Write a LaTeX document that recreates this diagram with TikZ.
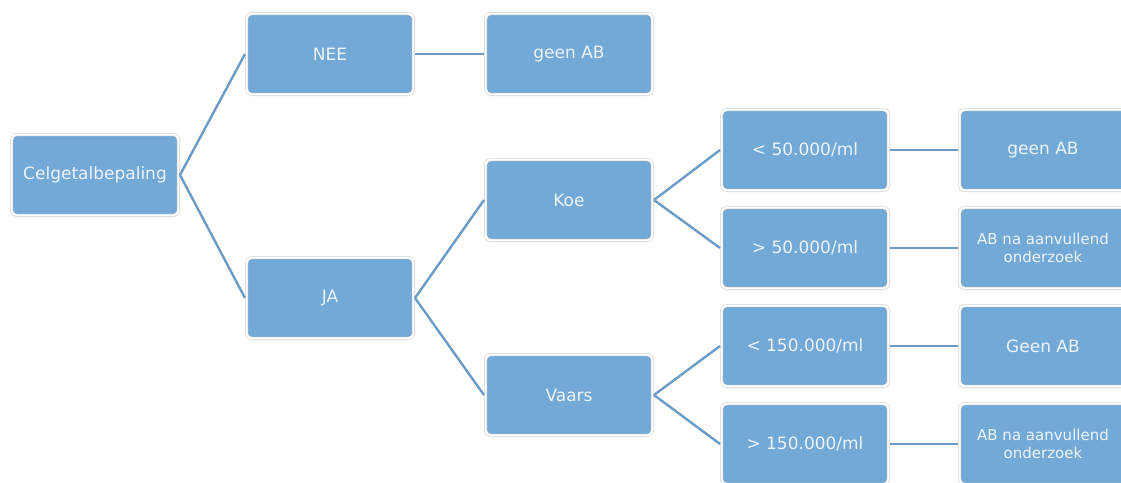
\documentclass[tikz,border=0pt]{standalone}
\usepackage{fontspec}
\setmainfont{DejaVu Sans}
\usepackage{xcolor}
\usepackage{tikz}
\usetikzlibrary{positioning}
\definecolor{boxblue}{HTML}{72A9D6}
\definecolor{boxtext}{HTML}{EEF4FA}
\definecolor{linkblue}{HTML}{6C9BC6}
\definecolor{rimgray}{HTML}{D2D2D2}

\begin{document}
\begin{tikzpicture}[x=1pt, y=-1pt,
              box/.style={rectangle, rounded corners=5pt, fill=boxblue,
                draw=rimgray, line width=0.6pt, double=white, double distance=2pt,
                minimum width=166.8pt, minimum height=80.8pt, outer sep=1.6pt,
                text=boxtext, align=center, font=\fontsize{17}{18}\selectfont},
              smallbox/.style={box, font=\fontsize{15}{18}\selectfont},
              link/.style={line width=2.4pt, linkblue},
             ]
\useasboundingbox (0,0) rectangle (1121,482);
\fill[white] (0,0) rectangle (1121,482);
% columns
\node[box] (cel) at (95,175) {Celgetalbepaling};
\node[box] (nee) at (330,54) {NEE};
\node[box] (ja) at (330,298) {JA};
\node[box] (geen) at (569,54) {geen AB};
\node[box] (koe) at (569,200) {Koe};
\node[box] (vaars) at (569,395) {Vaars};
\node[box] (k1) at (805,150) {< 50.000/ml};
\node[box] (k2) at (805,248) {> 50.000/ml};
\node[box] (v1) at (805,346) {< 150.000/ml};
\node[box] (v2) at (805,444) {> 150.000/ml};
\node[box] (rk1) at (1043,150) {geen AB};
\node[smallbox] (rk2) at (1043,248) {AB na aanvullend\\onderzoek};
\node[box] (rv1) at (1043,346) {Geen AB};
\node[smallbox] (rv2) at (1043,444) {AB na aanvullend\\onderzoek};
% links
\draw[link] (cel.east) -- (nee.west);
\draw[link] (cel.east) -- (ja.west);
\draw[link] (nee.east) -- (geen.west);
\draw[link] (ja.east) -- (koe.west);
\draw[link] (ja.east) -- (vaars.west);
\draw[link] (koe.east) -- (k1.west);
\draw[link] (koe.east) -- (k2.west);
\draw[link] (vaars.east) -- (v1.west);
\draw[link] (vaars.east) -- (v2.west);
\draw[link] (k1.east) -- (rk1.west);
\draw[link] (k2.east) -- (rk2.west);
\draw[link] (v1.east) -- (rv1.west);
\draw[link] (v2.east) -- (rv2.west);
\end{tikzpicture}
\end{document}
